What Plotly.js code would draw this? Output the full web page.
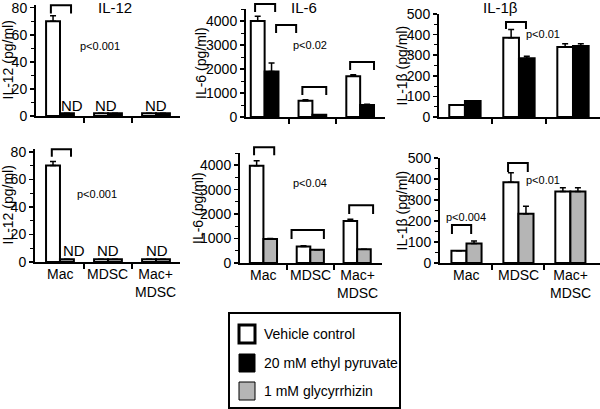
<!DOCTYPE html>
<html>
<head>
<meta charset="utf-8">
<script src="https://cdn.plot.ly/plotly-3.0.1.min.js"></script>
<style>
  html, body { margin: 0; padding: 0; background: #fff; }
  #chart { width: 600px; height: 409px; }
</style>
</head>
<body>
<div id="chart"></div>
<script>
// Cytokine release (pg/ml) by culture: Mac, MDSC, Mac+MDSC
const categories = ['Mac', 'MDSC', 'Mac+<br>MDSC'];
const seriesNames = ['Vehicle control', '20 mM ethyl pyruvate', '1 mM glycyrrhizin'];
const seriesColors = ['#ffffff', '#000000', '#b5b5b5'];

// top row: vehicle vs ethyl pyruvate
const il12TopVehicle = [70, 2, 2];
const il12TopVehicleErr = [4, null, null];
const il12Pyruvate = [2, 2, 2];
const il12PyruvateErr = [null, null, null];

const il6TopVehicle = [4000, 680, 1700];
const il6TopVehicleErr = [200, 40, 60];
const il6Pyruvate = [1900, 90, 500];
const il6PyruvateErr = [350, null, 30];

const il1bTopVehicle = [58, 385, 340];
const il1bTopVehicleErr = [null, 40, 15];
const il1bPyruvate = [78, 285, 345];
const il1bPyruvateErr = [null, 10, 10];

// bottom row: vehicle vs glycyrrhizin
const il12BotVehicle = [70, 2, 2];
const il12BotVehicleErr = [3, null, null];
const il12Glycyrrhizin = [2, 2, 2];
const il12GlycyrrhizinErr = [null, null, null];

const il6BotVehicle = [3980, 680, 1720];
const il6BotVehicleErr = [200, 30, 70];
const il6Glycyrrhizin = [980, 540, 560];
const il6GlycyrrhizinErr = [20, null, null];

const il1bBotVehicle = [58, 385, 340];
const il1bBotVehicleErr = [null, 45, 18];
const il1bGlycyrrhizin = [93, 235, 340];
const il1bGlycyrrhizinErr = [12, 35, 18];

// significance marks: [x from, x to, y leg, y top] in category / data units
const panels = [
  { title: 'IL-12', yTitle: 'IL-12 (pg/ml)', yMax: 82, dtick: 20, minor: 10, tickSize: 14,
    a: il12TopVehicle, aErr: il12TopVehicleErr, b: il12Pyruvate, bErr: il12PyruvateErr, treat: 1,
    nd: [[0.26, 8], [0.96, 8], [2.0, 8]],
    brackets: [[-0.19, 0.23, 75.7, 81.8]],
    pvals: [['p<0.001', 0.83, 52]] },
  { title: 'IL-6', yTitle: 'IL-6 (pg/ml)', yMax: 4500, dtick: 1000, minor: 500, tickSize: 14,
    a: il6TopVehicle, aErr: il6TopVehicleErr, b: il6Pyruvate, bErr: il6PyruvateErr, treat: 1,
    nd: [],
    brackets: [[-0.2, 0.22, 4375, 4708], [0.24, 0.66, 3500, 3833], [0.79, 1.29, 917, 1250], [1.79, 2.29, 1958, 2292]],
    pvals: [['p<0.02', 0.95, 3000]] },
  { title: 'IL-1β', yTitle: 'IL-1β (pg/ml)', yMax: 500, dtick: 100, minor: 50, tickSize: 14,
    a: il1bTopVehicle, aErr: il1bTopVehicleErr, b: il1bPyruvate, bErr: il1bPyruvateErr, treat: 1,
    nd: [],
    brackets: [[0.76, 1.13, 427, 461]],
    pvals: [['p<0.01', 1.44, 403]] },
  { title: '', yTitle: 'IL-12 (pg/ml)', yMax: 82, dtick: 20, minor: 10, tickSize: 14,
    a: il12BotVehicle, aErr: il12BotVehicleErr, b: il12Glycyrrhizin, bErr: il12GlycyrrhizinErr, treat: 2,
    nd: [[0.29, 8.4], [1.0, 8.4], [2.03, 8.4]],
    brackets: [[-0.17, 0.23, 76.4, 81.8]],
    pvals: [['p<0.001', 0.77, 49]] },
  { title: '', yTitle: 'IL-6 (pg/ml)', yMax: 4500, dtick: 1000, minor: 500, tickSize: 14,
    a: il6BotVehicle, aErr: il6BotVehicleErr, b: il6Glycyrrhizin, bErr: il6GlycyrrhizinErr, treat: 2,
    nd: [],
    brackets: [[-0.2, 0.23, 4408, 4735], [0.6, 1.29, 980, 1347], [1.83, 2.34, 2000, 2367]],
    pvals: [['p<0.04', 0.99, 3265]] },
  { title: '', yTitle: 'IL-1β (pg/ml)', yMax: 500, dtick: 100, minor: 50, tickSize: 14,
    a: il1bBotVehicle, aErr: il1bBotVehicleErr, b: il1bGlycyrrhizin, bErr: il1bGlycyrrhizinErr, treat: 2,
    nd: [],
    brackets: [[-0.28, 0.09, 138, 181], [0.8, 1.18, 433, 476]],
    pvals: [['p<0.004', 0, 219], ['p<0.01', 1.47, 395]] },
];

// pixel boxes of each plot area, and their category ranges
const boxes = [
  { x0: 36, x1: 180, y0: 5, y1: 116, xr: [-0.5, 2.5], yt: 8, titleX: 115, titleY: 8 },
  { x0: 246, x1: 385, y0: 9, y1: 117, xr: [-0.39, 2.52], yt: 201, titleX: 304, titleY: 7 },
  { x0: 439, x1: 600, y0: 14, y1: 117, xr: [-0.48, 2.5], yt: 401, titleX: 500, titleY: 7 },
  { x0: 35, x1: 180, y0: 149, y1: 262, xr: [-0.52, 2.5], yt: 8 },
  { x0: 240, x1: 382, y0: 153, y1: 263, xr: [-0.5, 2.53], yt: 198 },
  { x0: 440, x1: 600, y0: 158, y1: 263, xr: [-0.51, 2.57], yt: 401 },
];

const W = 600, H = 409;
const px = x => x / W;
const py = y => 1 - y / H;
const FONT = 'Liberation Sans, Arial, sans-serif';
const catIdx = categories.map((_, i) => i);

const traces = [];
const shapes = [];
const annotations = [];
const layout = {
  width: W, height: H,
  margin: { l: 0, r: 0, t: 0, b: 0 },
  paper_bgcolor: '#fff', plot_bgcolor: '#fff',
  barmode: 'group', bargap: 0.42, bargroupgap: 0,
  showlegend: false,
  font: { family: FONT, size: 14, color: '#000' },
};

function errBars(errs) {
  return {
    type: 'data', symmetric: false, visible: true,
    array: errs, arrayminus: errs.map(e => (e == null ? null : 0)),
    color: '#000', thickness: 1.5, width: 3,
  };
}

panels.forEach((p, i) => {
  const n = i + 1;
  const xa = n === 1 ? 'x' : 'x' + n;
  const ya = n === 1 ? 'y' : 'y' + n;
  const b = boxes[i];

  [[p.a, p.aErr, 0], [p.b, p.bErr, p.treat]].forEach(([vals, errs, s]) => {
    traces.push({
      type: 'bar', x: catIdx, y: vals, xaxis: xa, yaxis: ya,
      name: seriesNames[s],
      marker: { color: seriesColors[s], line: { color: '#000', width: 2 } },
      error_y: errBars(errs),
      hoverinfo: 'skip',
    });
  });

  layout['xaxis' + (n === 1 ? '' : n)] = {
    domain: [px(b.x0), px(b.x1)], anchor: ya, range: b.xr,
    showline: true, linewidth: 2, linecolor: '#000',
    tickmode: 'array', tickvals: [0.5, 1.5], ticks: 'outside', ticklen: 5, tickwidth: 2, tickcolor: '#000',
    showticklabels: false, showgrid: false, zeroline: false, fixedrange: true,
  };
  layout['yaxis' + (n === 1 ? '' : n)] = {
    domain: [py(b.y1), py(b.y0)], anchor: xa, range: [0, p.yMax],
    showline: true, linewidth: 2, linecolor: '#000',
    tickmode: 'linear', tick0: 0, dtick: p.dtick,
    ticks: 'outside', ticklen: 4, tickwidth: 1.5, tickcolor: '#000',
    minor: { tickmode: 'linear', tick0: 0, dtick: p.minor, ticks: 'outside', ticklen: 3, tickwidth: 1, tickcolor: '#000' },
    tickfont: { family: FONT, size: p.tickSize, color: '#000' },
    ticklabeloverflow: 'allow',
    showgrid: false, zeroline: false, fixedrange: true,
  };

  // y axis title
  annotations.push({
    text: p.yTitle, textangle: -90, showarrow: false,
    xref: 'paper', x: px(b.yt), xanchor: 'center',
    yref: ya + ' domain', y: 0.5, yanchor: 'middle',
    font: { family: FONT, size: 14, color: '#000' },
  });

  if (p.title) {
    annotations.push({
      text: p.title, showarrow: false,
      xref: 'paper', x: px(b.titleX), xanchor: 'center',
      yref: 'paper', y: py(b.titleY), yanchor: 'middle',
      font: { family: FONT, size: 15, color: '#000' },
    });
  }

  // category labels under the bottom row
  if (i >= 3) {
    categories.forEach((c, k) => {
      annotations.push({
        text: c, showarrow: false,
        xref: xa, x: k, xanchor: 'center',
        yref: 'paper', y: py(b.y1 + 2), yanchor: 'top',
        font: { family: FONT, size: 14, color: '#000' },
      });
    });
  }

  p.nd.forEach(([x, y]) => {
    annotations.push({
      text: 'ND', showarrow: false, xref: xa, x, yref: ya, y,
      xanchor: 'center', yanchor: 'middle',
      font: { family: FONT, size: 15, color: '#000' },
    });
  });

  p.pvals.forEach(([t, x, y]) => {
    annotations.push({
      text: t, showarrow: false, xref: xa, x, yref: ya, y,
      xanchor: 'center', yanchor: 'middle',
      font: { family: FONT, size: 11, color: '#000' },
    });
  });

  p.brackets.forEach(([x0, x1, yl, yt]) => {
    const l = yl / p.yMax, t = yt / p.yMax;
    shapes.push({
      type: 'path', xref: xa, yref: ya + ' domain',
      path: `M ${x0},${l} L ${x0},${t} L ${x1},${t} L ${x1},${l}`,
      line: { color: '#000', width: 2 },
    });
  });
});

// legend box drawn by hand
shapes.push({
  type: 'rect', xref: 'paper', yref: 'paper',
  x0: px(229), x1: px(400), y0: py(408), y1: py(313),
  line: { color: '#000', width: 2 }, fillcolor: 'rgba(0,0,0,0)',
});
const legendRows = [334, 363, 391];
seriesNames.forEach((name, s) => {
  const cy = legendRows[s];
  shapes.push({
    type: 'rect', xref: 'paper', yref: 'paper',
    x0: px(239), x1: px(255), y0: py(cy + 9), y1: py(cy - 9),
    fillcolor: seriesColors[s],
    line: { color: '#000', width: s === 0 ? 3 : 1 },
  });
  annotations.push({
    text: name, showarrow: false,
    xref: 'paper', x: px(262), xanchor: 'left',
    yref: 'paper', y: py(cy), yanchor: 'middle',
    font: { family: FONT, size: 14, color: '#000' },
  });
});

layout.shapes = shapes;
layout.annotations = annotations;

Plotly.newPlot('chart', traces, layout, { displayModeBar: false, staticPlot: true });
</script>
</body>
</html>
